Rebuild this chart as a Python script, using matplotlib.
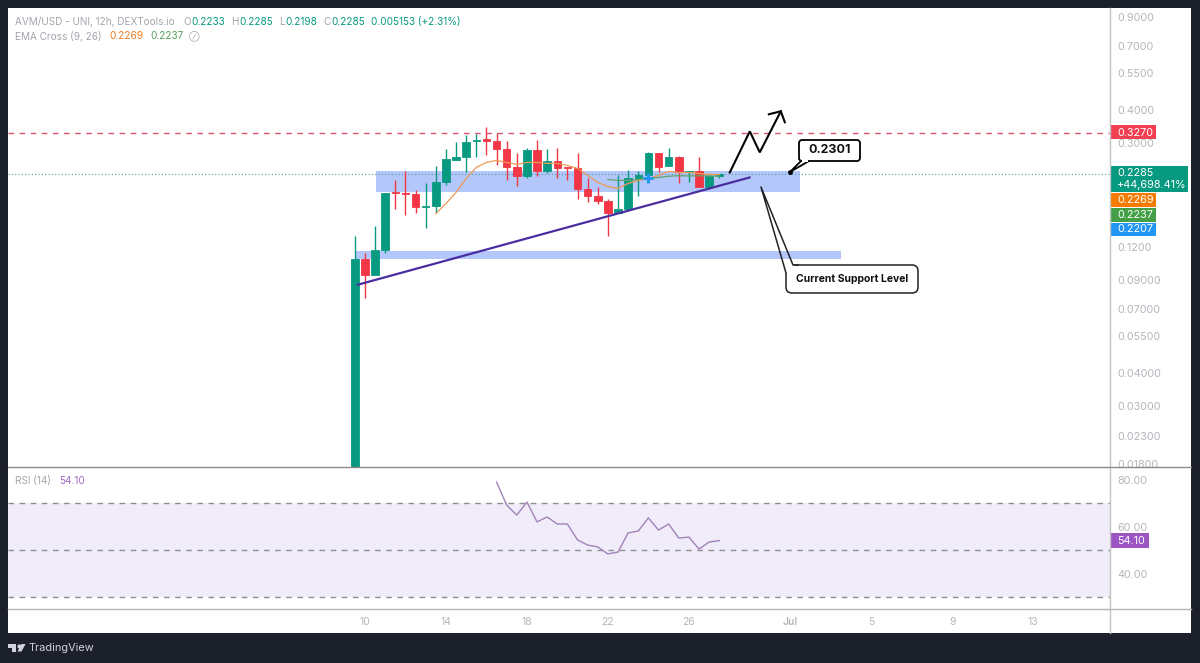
"""Grafico AVM/USD 12h estilo TradingView con RSI y niveles de soporte."""

import matplotlib
matplotlib.use("Agg")
import matplotlib.pyplot as plt
import numpy as np
from matplotlib.patches import FancyBboxPatch, Polygon, Rectangle

plt.rcParams["font.family"] = ["Inter", "DejaVu Sans"]

# --------------------------------------------------------------------------- #
#  Datos (dias de junio, 31 = 1 de julio)
# --------------------------------------------------------------------------- #
FIRST_DAY = 9.5
OPENS = [.012, .1087, .0944, .1176, .1939, .1922, .1905, .1708, .1715, .2116, .2567, .2635, .3032,
         .3086, .3032, .2827, .2414, .2231, .2802, .2331, .2545, .2414, .2393, .1990, .1872, .1807,
         .1627, .1685, .2192, .2250, .2730, .2435, .2635, .2310, .2331, .2026, .2233]
HIGHS = [.1330, .1145, .1451, .1922, .2154, .2331, .1973, .2098, .2435, .2827, .3006, .3196, .3224,
         .3429, .3253, .3032, .2730, .2852, .3059, .2827, .2852, .2425, .2730, .2192, .2026, .1839,
         .2250, .2351, .2331, .2754, .2730, .2852, .2659, .2340, .2635, .2250, .2285]
LOWS = [.012, .0772, .0944, .1145, .1685, .1598, .1627, .1426, .1627, .2062, .2567, .2310, .2635,
        .2682, .2457, .2154, .2044, .2192, .2231, .2290, .2192, .2154, .1839, .1776, .1760, .1330,
        .1627, .1685, .1872, .2116, .2310, .2435, .2098, .2116, .2026, .2026, .2198]
CLOSES = [.1087, .0944, .1176, .1922, .1930, .1912, .1700, .1722, .2116, .2590, .2635, .3006, .3059,
          .3032, .2827, .2414, .2231, .2802, .2331, .2545, .2393, .2395, .1990, .1872, .1807, .1627,
          .1685, .2192, .2250, .2730, .2414, .2635, .2310, .2331, .2026, .2231, .2285]

EMA9_START = 8
EMA9 = [.1612, .1760, .1939, .2192, .2414, .2522, .2567, .2522, .2478, .2522, .2522, .2500, .2500,
        .2457, .2393, .2250, .2116, .2044, .2008, .2098, .2154, .2192, .2250, .2331, .2310, .2310,
        .2290, .2269, .2269]
EMA26_START = 25
EMA26 = [.2173, .2154, .2154, .2173, .2192, .2211, .2235, .2245, .2240, .2245, .2240, .2237]

RSI_START = 14
RSI = [79.1, 69.3, 65.0, 70.6, 62.1, 64.2, 61.2, 61.2, 54.4, 52.2, 51.4, 48.4, 49.2, 57.4, 58.2,
       63.8, 58.6, 61.2, 55.2, 55.6, 50.5, 53.5, 54.1]
RSI_LEVELS = [70, 50, 30]

PRICE_TICKS = [0.9, 0.7, 0.55, 0.4, 0.3, 0.12, 0.09, 0.07, 0.055, 0.04, 0.03, 0.023, 0.018]
PRICE_LABELS = ["0.9000", "0.7000", "0.5500", "0.4000", "0.3000", "0.1200", "0.09000", "0.07000",
                "0.05500", "0.04000", "0.03000", "0.02300", "0.01800"]
RSI_TICKS = [80, 60, 40]
RSI_LABELS = ["80.00", "60.00", "40.00"]
DAY_TICKS = [10, 14, 18, 22, 26, 31, 35, 39, 43]
DAY_LABELS = ["10", "14", "18", "22", "26", "Jul", "5", "9", "13"]

RESISTANCE = 0.3270
LAST_PRICE = 0.2285

# dibujos del autor: zonas, tendencia y camino esperado
ZONE_UPPER_DAYS = [10.54, 31.48]
ZONE_UPPER_PRICES = [.1939, .2331]
ZONE_LOWER_DAYS = [9.56, 33.5]
ZONE_LOWER_PRICES = [.1082, .1166]
TREND_DAYS = [9.65, 29.0]
TREND_PRICES = [.0865, .2211]
PATH_DAYS = [28.02, 29.01, 29.5, 30.54]
PATH_PRICES = [.2310, .3310, .2754, .3945]
HEAD_DAYS = [29.95, 30.54, 30.74]
HEAD_PRICES = [.3843, .3945, .3583]
CROSS_DAY, CROSS_PRICE = 24.0, .2192

# --------------------------------------------------------------------------- #
#  Colores y geometria (pixeles de la figura)
# --------------------------------------------------------------------------- #
W, H = 1200, 663
DARK = "#1c202b"
GREEN = "#089981"
RED = "#f23645"
ZONE = "#b3c7fa"
GREY_TXT = "#b4b6bc"
LEGEND_GREY = "#a3a6ad"
BORDER = "#b4b4b4"
PANEL_L, PANEL_R, PANEL_T, PANEL_B = 8, 1191, 8, 633
SCALE_X = 1110
MAIN_B = 467
RSI_B = 609
TAG_FS = 7.8


def axes_px(fig, left, top, right, bottom, **kw):
    """Crea ejes a partir de una caja en pixeles (origen arriba a la izquierda)."""
    return fig.add_axes([left / W, 1 - bottom / H, (right - left) / W, (bottom - top) / H], **kw)


def draw_candles(ax):
    days = FIRST_DAY + np.arange(len(OPENS)) * 0.5
    opens, closes = np.array(OPENS), np.array(CLOSES)
    colors = [GREEN if c >= o else RED for o, c in zip(opens, closes)]
    ax.vlines(days, LOWS, HIGHS, colors=colors, lw=1.0, zorder=3)
    bottoms = np.minimum(opens, closes)
    ax.bar(days, np.abs(closes - opens), bottom=bottoms, width=0.37, color=colors,
           edgecolor=colors, lw=0.6, zorder=4)
    return days


def draw_main(ax):
    ax.set_yscale("log")
    ax.set_xlim(-7.63, 46.8)
    ax.set_ylim(0.01755, 0.974)
    ax.yaxis.tick_right()
    ax.set_yticks(PRICE_TICKS, PRICE_LABELS)
    ax.minorticks_off()
    ax.tick_params(axis="y", length=0, pad=5, labelsize=TAG_FS, labelcolor=GREY_TXT)
    ax.set_xticks([])
    for s in ax.spines.values():
        s.set_visible(False)

    ax.add_patch(Rectangle((ZONE_UPPER_DAYS[0], ZONE_UPPER_PRICES[0]),
                           ZONE_UPPER_DAYS[1] - ZONE_UPPER_DAYS[0],
                           ZONE_UPPER_PRICES[1] - ZONE_UPPER_PRICES[0],
                           fc=ZONE, ec="none", zorder=1))
    ax.add_patch(Rectangle((ZONE_LOWER_DAYS[0], ZONE_LOWER_PRICES[0]),
                           ZONE_LOWER_DAYS[1] - ZONE_LOWER_DAYS[0],
                           ZONE_LOWER_PRICES[1] - ZONE_LOWER_PRICES[0],
                           fc=ZONE, ec="none", zorder=1))

    ax.axhline(RESISTANCE, color="#d9566a", lw=1.0, ls=(0, (4, 4)), zorder=2)
    ax.axhline(LAST_PRICE, color="#4f9aa0", lw=0.8, ls=(0, (1, 2)), zorder=2)

    days = draw_candles(ax)
    ax.plot(days[EMA9_START:], EMA9, color="#ef9a55", lw=0.9, zorder=5)
    ax.plot(days[EMA26_START:], EMA26, color="#5fa56a", lw=0.9, zorder=5)
    ax.plot([CROSS_DAY], [CROSS_PRICE], "+", color="#2196f3", ms=7, mew=2.2, zorder=5)

    ax.plot(TREND_DAYS, TREND_PRICES, color="#4a2ea0", lw=1.6, zorder=6)
    ax.plot(PATH_DAYS, PATH_PRICES, color="black", lw=1.5, zorder=6, solid_joinstyle="miter")
    ax.plot(HEAD_DAYS, HEAD_PRICES, color="black", lw=1.5, zorder=6, solid_joinstyle="miter")


def draw_rsi(ax):
    ax.set_xlim(-7.63, 46.8)
    ax.set_ylim(24.87, 85.56)
    ax.axhspan(RSI_LEVELS[2], RSI_LEVELS[0], color="#f1ecf9", lw=0, zorder=1)
    for lev in RSI_LEVELS:
        ax.axhline(lev, color="#8f8d94", lw=1.0, ls=(0, (4, 4)), zorder=2)
    days = FIRST_DAY + np.arange(len(OPENS)) * 0.5
    ax.plot(days[RSI_START:], RSI, color="#a183b8", lw=1.0, zorder=3)
    ax.yaxis.tick_right()
    ax.set_yticks(RSI_TICKS, RSI_LABELS)
    ax.tick_params(axis="y", length=0, pad=5, labelsize=TAG_FS, labelcolor=GREY_TXT)
    ax.set_xticks(DAY_TICKS, DAY_LABELS)
    ax.tick_params(axis="x", length=0, pad=6, labelsize=7.5, labelcolor=GREY_TXT)
    ax.get_xticklabels()[DAY_LABELS.index("Jul")].set_fontweight("semibold")
    for s in ax.spines.values():
        s.set_visible(False)


def price_tag(ov, top, bottom, right, color, lines):
    ov.add_patch(Rectangle((SCALE_X, top), right - SCALE_X, bottom - top, fc=color, ec="none"))
    for y, txt in lines:
        ov.text(1117, y, txt, color="white", fontsize=TAG_FS, va="center", ha="left")


def draw_overlay(ov):
    # bordes de los paneles
    ov.plot([SCALE_X, SCALE_X], [PANEL_T, PANEL_B], color="#c4c4c4", lw=1.0)
    ov.plot([PANEL_L, PANEL_R], [MAIN_B - 0.5, MAIN_B - 0.5], color="#8a8a8a", lw=1.0)
    ov.plot([PANEL_L, PANEL_R], [RSI_B, RSI_B], color=BORDER, lw=1.0)

    # etiquetas de la escala de precios
    price_tag(ov, 125, 139, 1156, "#f23f52", [(132.5, "0.3270")])
    price_tag(ov, 166, 192, 1188, GREEN, [(173, "0.2285"), (185, "+44,698.41%")])
    price_tag(ov, 192.5, 207, 1156, "#f57c00", [(200, "0.2269")])
    price_tag(ov, 208, 221.5, 1156, "#43a047", [(215, "0.2237")])
    price_tag(ov, 223, 236, 1156, "#2196f3", [(229, "0.2207")])
    ov.add_patch(Rectangle((SCALE_X, 533), 39, 15, fc="#9c56c4", ec="none"))
    ov.text(1117, 540.5, "54.10", color="white", fontsize=TAG_FS, va="center", ha="left")

    # leyenda superior
    fs = 7.2
    row1 = [(15, "AVM/USD - UNI, 12h, DEXTools.io", LEGEND_GREY), (183, "O", LEGEND_GREY),
            (191, "0.2233", GREEN), (231, "H", LEGEND_GREY), (239, "0.2285", GREEN),
            (279, "L", LEGEND_GREY), (285, "0.2198", GREEN), (323, "C", LEGEND_GREY),
            (331, "0.2285", GREEN), (371, "0.005153 (+2.31%)", GREEN)]
    for x, txt, col in row1:
        ov.text(x, 22, txt, color=col, fontsize=fs, va="center", ha="left")
    row2 = [(15, "EMA Cross (9, 26)", LEGEND_GREY), (109, "0.2269", "#ef7d22"),
            (150, "0.2237", "#56a05c"), (189, "\u2298", LEGEND_GREY)]
    for x, txt, col in row2:
        ov.text(x, 36, txt, color=col, fontsize=fs if txt != "\u2298" else 5.5, va="center", ha="left")
    ov.text(15, 481, "RSI (14)", color=LEGEND_GREY, fontsize=fs, va="center", ha="left")
    ov.text(59, 481, "54.10", color="#9c6ac0", fontsize=fs, va="center", ha="left")

    # globo 0.2301
    ov.add_patch(Polygon([(801, 161), (790, 172), (809, 161)], closed=True, fc="white", ec="black",
                         lw=1.3, zorder=6))
    ov.add_patch(FancyBboxPatch((799, 140), 61, 21, boxstyle="round,pad=0,rounding_size=3",
                                fc="white", ec="black", lw=1.3, zorder=7))
    ov.add_patch(Rectangle((802, 158), 6, 4, fc="white", ec="none", zorder=8))
    ov.text(829.5, 150, "0.2301", color="#111111", fontsize=9, fontweight="bold", ha="center",
            va="center", zorder=9)
    ov.plot([790], [172], "o", color="black", ms=2.5, zorder=9)

    # globo de soporte
    ov.add_patch(FancyBboxPatch((786, 265), 132, 28, boxstyle="round,pad=0,rounding_size=6",
                                fc="white", ec="#222222", lw=1.1, zorder=7))
    ov.add_patch(Rectangle((785, 262), 9, 11, fc="white", ec="none", zorder=8))
    ov.plot([786, 761, 793, 798], [273, 187, 265, 265], color="#222222", lw=1.1, zorder=9)
    ov.text(852, 279, "Current Support Level", color="#111111", fontsize=7.5, fontweight="bold",
            ha="center", va="center", zorder=9)

    # marca de TradingView en el pie
    ov.add_patch(Polygon([(8, 644), (16, 644), (16, 651.5), (12, 651.5), (12, 647.5), (8, 647.5)],
                         closed=True, fc="#d1d4dc", ec="none"))
    ov.add_patch(Polygon([(21.5, 644), (25.5, 644), (21.5, 651.5), (17.5, 651.5)], closed=True,
                         fc="#d1d4dc", ec="none"))
    ov.plot([19], [646], "o", color="#d1d4dc", ms=3.0, mew=0)
    ov.text(29, 648, "TradingView", color="#d1d4dc", fontsize=7.9, va="center", ha="left")


def main():
    fig = plt.figure(figsize=(W / 100, H / 100), dpi=100, facecolor=DARK)

    bg = axes_px(fig, PANEL_L, PANEL_T, PANEL_R, PANEL_B, facecolor="white", zorder=0)
    bg.set_xticks([])
    bg.set_yticks([])
    for s in bg.spines.values():
        s.set_visible(False)

    ax = axes_px(fig, PANEL_L, PANEL_T, SCALE_X, MAIN_B, facecolor="none", zorder=1)
    ax_rsi = axes_px(fig, PANEL_L, MAIN_B, SCALE_X, RSI_B, facecolor="none", zorder=1)
    ov = axes_px(fig, 0, 0, W, H, facecolor="none", zorder=5)
    ov.set_xlim(0, W)
    ov.set_ylim(H, 0)
    ov.axis("off")

    draw_main(ax)
    draw_rsi(ax_rsi)
    draw_overlay(ov)

    fig.savefig("out.png", dpi=100, facecolor=DARK)
    plt.close(fig)


if __name__ == "__main__":
    main()
